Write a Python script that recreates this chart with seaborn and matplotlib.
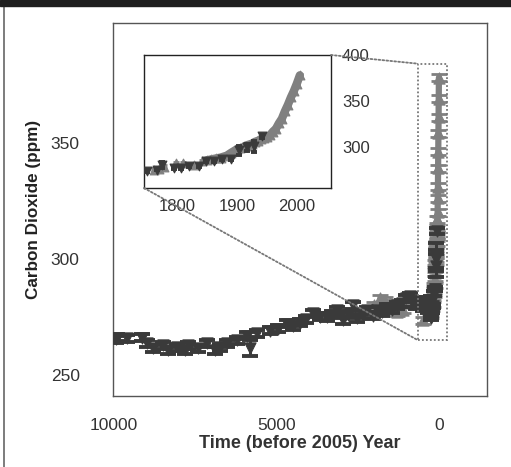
import matplotlib

matplotlib.use("Agg")
import matplotlib.pyplot as plt
import numpy as np
import pandas as pd
import seaborn as sns
from matplotlib.lines import Line2D
from matplotlib.patches import ConnectionPatch, Rectangle

# ice-core record, years before 2005
DARK_BP = [9950, 9900, 9600, 9140, 8980, 8800, 8490, 8340, 8060, 7820, 7720, 7420,
           7140, 6890, 6740, 6520, 6220, 5910, 5820, 5600, 5200, 4950, 4680, 4500,
           4280, 4100, 3880, 3650, 3450, 3300, 3140, 2950, 2800, 2650, 2520, 2350,
           2220, 2030, 1900, 1750, 1600, 1450, 1300, 1150, 1000, 890, 800, 700,
           600, 500, 400, 330,
           255, 238, 230, 210, 198, 185, 168, 157, 143, 130, 115, 102, 88, 77, 63]
DARK_PPM = [265.5, 266, 265.8, 266, 263.7, 261.5, 262.8, 260.7, 262, 260.7, 262.8, 261.5,
            263.7, 260.7, 262, 263.7, 265, 267, 261.5, 268, 269, 270, 272, 271,
            272.6, 274, 276.5, 275, 274.8, 276, 277.8, 273.5, 276, 280, 274.4, 276,
            277.8, 275.6, 278, 277, 279, 278, 280, 281, 283, 284, 280.8, 280,
            282, 279, 281, 278,
            274.5, 276, 281, 277.5, 277.7, 279.8, 279.8, 285, 285, 287, 287, 297, 300, 301, 312]
DARK_ERR = [1.5] * 18 + [3.5] + [1.5] * 33 + [1, 1, 3, 1, 1, 1, 1, 1, 1, 1, 1, 5, 4, 6, 1.5]

LIGHT_BP = [2000, 1820, 1650, 1510, 1290, 1110, 950, 490,
            243, 235, 227, 207, 195, 177, 163, 155, 148, 140, 132, 122, 115, 110,
            105, 100, 95, 90, 85, 80, 75, 70, 65, 60, 55, 50, 45, 40, 35, 30, 25,
            20, 15, 10, 5, 0]
LIGHT_PPM = [280, 283, 282, 281, 277, 278, 281, 273.5,
             276, 277, 279, 283, 283, 281, 285, 286, 287, 288, 289, 291, 294, 296,
             298, 299, 300, 302, 303, 304, 306, 307, 309, 310, 311, 313, 317, 320,
             326, 331, 339, 346, 354, 361, 369, 378]

MAIN_XTICKS = [10000, 5000, 0]
MAIN_YTICKS = [250, 300, 350]
INSET_XTICKS = [1800, 1900, 2000]
INSET_YTICKS = [300, 350, 400]
ZOOM_BOX = (646, -246, 265, 384)  # x0, x1, y0, y1 in main data units

DARK = "#3a3a3a"
LIGHT = "#808080"

dark = pd.DataFrame({"bp": DARK_BP, "ppm": DARK_PPM, "err": DARK_ERR})
light = pd.DataFrame({"bp": LIGHT_BP, "ppm": LIGHT_PPM})
dark["year"] = 2005 - dark["bp"]
light["year"] = 2005 - light["bp"]

sns.set_theme(style="white")
plt.rcParams["font.family"] = ["Liberation Sans", "DejaVu Sans"]

fig = plt.figure(figsize=(5.11, 4.67), dpi=100)
ax = fig.add_axes([113 / 511, 1 - 396 / 467, 374 / 511, 373 / 467])
axin = fig.add_axes([144 / 511, 1 - 188 / 467, 187 / 511, 133 / 467])


def draw(a, df_dark, df_light, xcol, s, cap, band_lw):
    band = df_light[df_light["bp"] <= 160]
    sns.lineplot(data=band, x=xcol, y="ppm", color=LIGHT, linewidth=band_lw,
                 estimator=None, sort=True, ax=a, zorder=2)
    a.errorbar(df_light[xcol], df_light["ppm"], yerr=1.5, fmt="none", ecolor=LIGHT,
               elinewidth=2, capsize=cap, capthick=2, zorder=2)
    sns.scatterplot(data=df_light, x=xcol, y="ppm", marker="^", s=s, color=LIGHT,
                    edgecolor=LIGHT, linewidth=0.8, ax=a, zorder=3)
    a.errorbar(df_dark[xcol], df_dark["ppm"], yerr=df_dark["err"], fmt="none", ecolor=DARK,
               elinewidth=2.2, capsize=cap, capthick=2.8, zorder=4)
    sns.scatterplot(data=df_dark, x=xcol, y="ppm", marker="v", s=s, color=DARK,
                    edgecolor=DARK, linewidth=0.8, ax=a, zorder=5)


draw(ax, dark, light, "bp", 65, 5.5, 4.5)
ax.set_xlim(10030, -1480)
ax.set_ylim(241, 401.5)
ax.set_xticks(MAIN_XTICKS)
ax.set_yticks(MAIN_YTICKS)
ax.tick_params(length=0, labelsize=12.5, labelcolor="#333333")
ax.tick_params(axis="x", pad=16)
ax.tick_params(axis="y", pad=24)
ax.set_xlabel("Time (before 2005) Year", fontsize=13, fontweight="bold", color="#333333", labelpad=1)
ax.set_ylabel("Carbon Dioxide (ppm)", fontsize=12.3, fontweight="bold", color="#222222", labelpad=7)
for sp in ax.spines.values():
    sp.set_color("#555555")
    sp.set_linewidth(1.0)

draw(axin, dark[dark["year"] >= 1740], light[light["year"] >= 1740], "year", 40, 2.5, 6)
axin.set_xlim(1745, 2057)
axin.set_ylim(256, 400)
axin.set_xticks(INSET_XTICKS)
axin.set_yticks(INSET_YTICKS)
axin.yaxis.tick_right()
axin.tick_params(length=0, labelsize=12, labelcolor="#333333", pad=8)
axin.set_xlabel("")
axin.set_ylabel("")
for sp in axin.spines.values():
    sp.set_color("#222222")
    sp.set_linewidth(1.0)

dot = dict(color="#777777", linewidth=1.3, linestyle=(0, (1, 1.2)))
x0, x1, y0, y1 = ZOOM_BOX
ax.add_patch(Rectangle((x0, y0), x1 - x0, y1 - y0, fill=False, zorder=6, **dot))
for pa, pb in [((1, 1), (x0, y1)), ((0, 0), (x0, y0))]:
    con = ConnectionPatch(xyA=pa, coordsA=axin.transAxes, xyB=pb, coordsB=ax.transData, **dot)
    fig.add_artist(con)

fig.add_artist(Rectangle((0, 1 - 6 / 467), 1, 6 / 467, transform=fig.transFigure,
                         color="#1e1e1e", zorder=10))
fig.add_artist(Line2D([4 / 511, 4 / 511], [0, 1 - 6 / 467], transform=fig.transFigure,
                      color="#666666", linewidth=1.2))

fig.savefig("out.png", dpi=100)
